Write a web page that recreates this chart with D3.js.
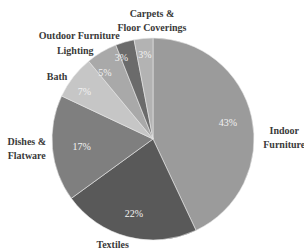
<!DOCTYPE html>
<meta charset="utf-8">
<style>
body { margin: 0; background: #fff; }
svg text { font-family: "Liberation Serif", "DejaVu Serif", serif; }
.cat { font-size: 10px; font-weight: bold; fill: #3a3a3a; }
.pct { font-size: 10px; fill: #f2f2f2; }
</style>
<svg width="304" height="250"></svg>
<script src="https://cdn.jsdelivr.net/npm/d3@7"></script>
<script>
// slices clockwise from 12 o'clock
var categories = ["Indoor Furniture", "Textiles", "Dishes & Flatware", "Bath", "Lighting", "Outdoor Furniture", "Carpets & Floor Coverings"];
var shares = [43, 22, 17, 7, 5, 3, 3];
var labelLines = [["Indoor", "Furniture"], ["Textiles"], ["Dishes &", "Flatware"], ["Bath"], ["Lighting"], ["Outdoor Furniture"], ["Carpets &", "Floor Coverings"]];

var svg = d3.select("svg"),
    cx = 153, cy = 139, r = 101;

var fills = ["#9b9b9b", "#595959", "#7f7f7f", "#c6c6c6", "#a9a9a9", "#6b6b6b", "#b3b3b3"];

var pie = d3.pie().sort(null).value(function(d) { return d; });
var arcs = pie(shares);

var arc = d3.arc().innerRadius(0).outerRadius(r);
var labelArc = d3.arc().innerRadius(r * 0.76).outerRadius(r * 0.76);
var smallArc = d3.arc().innerRadius(r * 0.84).outerRadius(r * 0.84);

var g = svg.append("g").attr("transform", "translate(" + cx + "," + cy + ")");

g.selectAll("path")
    .data(arcs)
  .enter().append("path")
    .attr("d", arc)
    .attr("fill", function(d, i) { return fills[i]; })
    .attr("stroke", "#e8e8e8")
    .attr("stroke-width", 0.6);

g.selectAll("text.pct")
    .data(arcs)
  .enter().append("text")
    .attr("class", "pct")
    .attr("text-anchor", "middle")
    .attr("dy", "0.35em")
    .attr("transform", function(d) {
      var c = (d.data < 5 ? smallArc : labelArc).centroid(d);
      if (d.index == 5) c[0] -= 8;
      if (d.data == 5) c[0] -= 9;
      if (d.data == 7) c[0] -= 8;
      if (d.data == 17) c[0] += 5;
      return "translate(" + c + ")";
    })
    .text(function(d) { return d.data + "%"; });

// category labels sit where the original layout put them (offsets from centre, in radii)
var catPos = [[1.30, -0.08], [-0.40, 1.04], [-1.25, 0.02], [-0.95, -0.62], [-0.77, -0.88], [-0.73, -1.02], [-0.01, -1.24]];

svg.selectAll("text.cat")
    .data(categories)
  .enter().append("text")
    .attr("class", "cat")
    .attr("text-anchor", "middle")
    .attr("x", function(d, i) { return cx + catPos[i][0] * r; })
    .attr("y", function(d, i) { return cy + catPos[i][1] * r; })
    .each(function(d, i) {
      var t = d3.select(this), x = cx + catPos[i][0] * r;
      labelLines[i].forEach(function(line, k) {
        t.append("tspan").attr("x", x).attr("dy", k == 0 ? "0.35em" : "1.4em").text(line);
      });
    });
</script>
